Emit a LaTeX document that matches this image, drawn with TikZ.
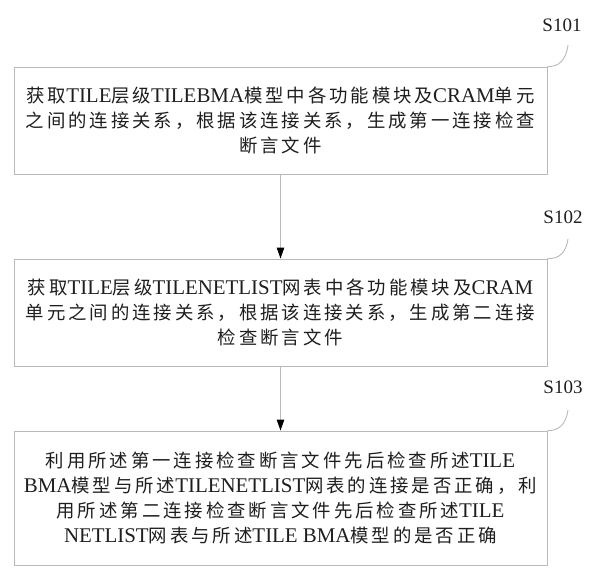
\documentclass[tikz,border=0pt]{standalone}
\usepackage{fontspec}
\setmainfont{Liberation Serif}
\newfontfamily\cjkfont[Scale=0.88,LetterSpace=16]{Noto Sans CJK SC}
\newcommand\CJ[1]{{\cjkfont #1}}
\usetikzlibrary{arrows.meta}
\definecolor{boxline}{RGB}{185,185,185}
\definecolor{txt}{RGB}{30,30,30}
\tikzset{
  stepbox/.style={draw=boxline, line width=0.9pt, minimum width=533pt, inner sep=0pt,
    align=center, text=txt, font=\fontsize{20.9}{25}\selectfont},
  steplabel/.style={text=txt, font=\fontsize{19}{22}\selectfont, inner sep=0pt},
  flow/.style={draw=boxline, line width=0.9pt, -{Triangle[length=11pt,width=7.5pt,black]}},
  leader/.style={draw=boxline, line width=0.9pt}
}
\begin{document}
\begin{tikzpicture}[x=1pt,y=-1pt]
\useasboundingbox (0,0) rectangle (609,576);
\node[stepbox, minimum height=107pt] (b1) at (280.5,120.5)
  {\CJ{获取}TILE\CJ{层级}TILEBMA\CJ{模型中各功能模块及}CRAM\CJ{单元}\\
   \CJ{之间的连接关系，根据该连接关系，生成第一连接检查}\\
   \CJ{断言文件}};
\node[stepbox, minimum height=107pt] (b2) at (280.5,312.5)
  {\CJ{获取}TILE\CJ{层级}TILENETLIST\CJ{网表中各功能模块及}CRAM\\
   \CJ{单元之间的连接关系，根据该连接关系，生成第二连接}\\
   \CJ{检查断言文件}};
\node[stepbox, minimum height=134pt] (b3) at (280.5,498)
  {\CJ{利用所述第一连接检查断言文件先后检查所述}TILE\\
   BMA\CJ{模型与所述}TILENETLIST\CJ{网表的连接是否正确，利}\\
   \CJ{用所述第二连接检查断言文件先后检查所述}TILE\\
   NETLIST\CJ{网表与所述}TILE BMA\CJ{模型的是否正确}};
\node[steplabel] (s1) at (562,25) {S101};
\node[steplabel] (s2) at (563,217) {S102};
\node[steplabel] (s3) at (563,387) {S103};
\coordinate (c1) at (568,45);
\coordinate (c2) at (568,239);
\coordinate (c3) at (568,410);
\draw[leader] (c1) .. controls (566,60) and (559,67) .. (b1.north east);
\draw[leader] (c2) .. controls (566,253) and (559,259) .. (b2.north east);
\draw[leader] (c3) .. controls (566,424) and (559,431) .. (b3.north east);
\draw[flow] (b1.south) -- (b2.north);
\draw[flow] (b2.south) -- (b3.north);
\end{tikzpicture}
\end{document}
